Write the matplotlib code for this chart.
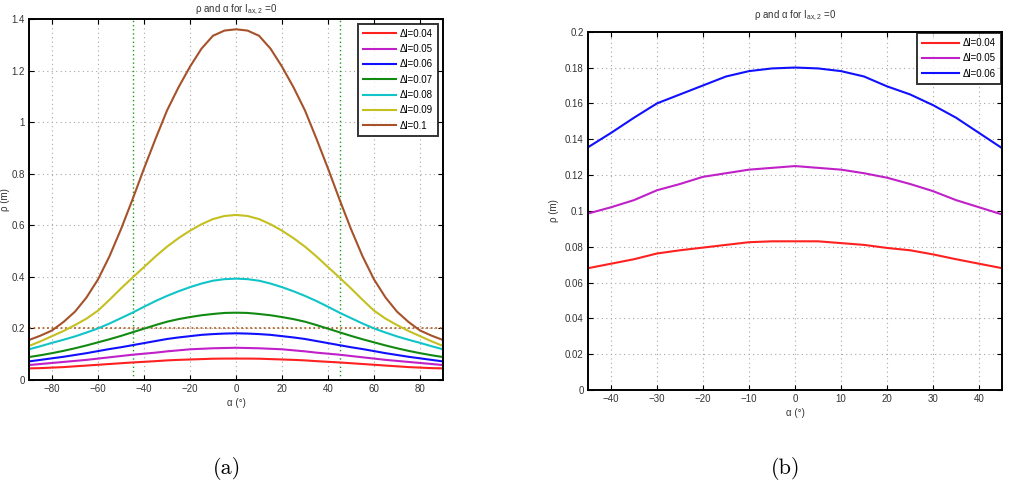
import matplotlib
matplotlib.use("Agg")
import matplotlib.pyplot as plt

# alpha in degrees, panel (a) read every 5 deg
alpha_a = [-90, -85, -80, -75, -70, -65, -60, -55, -50, -45, -40, -35, -30, -25, -20, -15, -10, -5,
           0, 5, 10, 15, 20, 25, 30, 35, 40, 45, 50, 55, 60, 65, 70, 75, 80, 85, 90]

rho_004 = [0.045, 0.046, 0.048, 0.050, 0.053, 0.056, 0.059, 0.062, 0.065, 0.068, 0.0705, 0.073, 0.076, 0.078, 0.0795, 0.081, 0.0825, 0.083,
           0.083, 0.083, 0.0825, 0.081, 0.0795, 0.078, 0.076, 0.073, 0.0705, 0.068, 0.065, 0.062, 0.059, 0.056, 0.053, 0.050, 0.048, 0.046, 0.045]
rho_005 = [0.058, 0.062, 0.066, 0.070, 0.074, 0.078, 0.083, 0.088, 0.093, 0.098, 0.102, 0.106, 0.111, 0.115, 0.119, 0.121, 0.123, 0.124,
           0.125, 0.124, 0.123, 0.121, 0.119, 0.115, 0.111, 0.106, 0.102, 0.098, 0.093, 0.088, 0.083, 0.078, 0.074, 0.070, 0.066, 0.062, 0.058]
rho_006 = [0.072, 0.078, 0.084, 0.090, 0.097, 0.104, 0.112, 0.120, 0.127, 0.135, 0.143, 0.151, 0.159, 0.165, 0.170, 0.175, 0.178, 0.180,
           0.181, 0.180, 0.178, 0.175, 0.170, 0.165, 0.159, 0.151, 0.143, 0.135, 0.127, 0.120, 0.112, 0.104, 0.097, 0.090, 0.084, 0.078, 0.072]
rho_007 = [0.089, 0.096, 0.104, 0.113, 0.123, 0.134, 0.146, 0.158, 0.171, 0.185, 0.199, 0.213, 0.226, 0.236, 0.244, 0.251, 0.256, 0.260,
           0.261, 0.260, 0.256, 0.251, 0.244, 0.236, 0.226, 0.213, 0.199, 0.185, 0.171, 0.158, 0.146, 0.134, 0.123, 0.113, 0.104, 0.096, 0.089]
rho_008 = [0.119, 0.131, 0.144, 0.156, 0.169, 0.184, 0.200, 0.219, 0.240, 0.261, 0.284, 0.306, 0.326, 0.344, 0.360, 0.374, 0.385, 0.391,
           0.393, 0.391, 0.385, 0.374, 0.360, 0.344, 0.326, 0.306, 0.284, 0.261, 0.240, 0.219, 0.200, 0.184, 0.169, 0.156, 0.144, 0.131, 0.119]
rho_009 = [0.132, 0.150, 0.170, 0.190, 0.213, 0.238, 0.269, 0.311, 0.355, 0.397, 0.438, 0.479, 0.517, 0.550, 0.579, 0.604, 0.624, 0.636,
           0.640, 0.636, 0.624, 0.604, 0.579, 0.550, 0.517, 0.479, 0.438, 0.397, 0.355, 0.311, 0.269, 0.238, 0.213, 0.190, 0.170, 0.150, 0.132]
rho_010 = [0.155, 0.172, 0.192, 0.225, 0.265, 0.320, 0.390, 0.480, 0.585, 0.700, 0.820, 0.935, 1.045, 1.135, 1.215, 1.285, 1.335, 1.355,
           1.360, 1.355, 1.335, 1.285, 1.215, 1.135, 1.045, 0.935, 0.820, 0.700, 0.585, 0.480, 0.390, 0.320, 0.265, 0.225, 0.192, 0.172, 0.155]

# panel (b), zoom on -45..45
alpha_b = [-45, -40, -35, -30, -25, -20, -15, -10, -5, 0, 5, 10, 15, 20, 25, 30, 35, 40, 45]
rho_b_004 = [0.068, 0.0705, 0.073, 0.0762, 0.078, 0.0795, 0.081, 0.0825, 0.083, 0.083, 0.083, 0.082, 0.081, 0.0793, 0.078, 0.0757, 0.073, 0.0705, 0.068]
rho_b_005 = [0.0985, 0.102, 0.106, 0.1115, 0.115, 0.119, 0.121, 0.123, 0.124, 0.125, 0.124, 0.123, 0.121, 0.1185, 0.115, 0.111, 0.106, 0.102, 0.098]
rho_b_006 = [0.1355, 0.1435, 0.152, 0.160, 0.165, 0.170, 0.175, 0.178, 0.1795, 0.180, 0.1795, 0.178, 0.175, 0.1695, 0.165, 0.159, 0.152, 0.1435, 0.135]

labels = ['\u0394l=0.04', '\u0394l=0.05', '\u0394l=0.06', '\u0394l=0.07', '\u0394l=0.08', '\u0394l=0.09', '\u0394l=0.1']
colors = ['#ff2020', '#c020c8', '#1010ff', '#128a12', '#10c4c8', '#c4c020', '#a5522a']
rho_a = [rho_004, rho_005, rho_006, rho_007, rho_008, rho_009, rho_010]
rho_b = [rho_b_004, rho_b_005, rho_b_006]

plt.rcParams['font.family'] = ['Liberation Sans', 'DejaVu Sans']
plt.rcParams['font.size'] = 7
plt.rcParams['axes.unicode_minus'] = True

title = '\u03c1 and \u03b1 for I$_{\\mathregular{ax,2}}$ =0'

fig = plt.figure(figsize=(10.14, 4.84), dpi=100)
ax1 = fig.add_axes([0.0286, 0.2149, 0.4083, 0.7459])
ax2 = fig.add_axes([0.5799, 0.1942, 0.4083, 0.7403])


def style(ax):
    ax.grid(True, color='#a8a8a8', linestyle=(0, (1, 3)), linewidth=0.8)
    ax.tick_params(direction='in', top=True, right=True, length=3.5, width=0.8,
                   labelsize=7, labelcolor='#333333', pad=3)
    for s in ax.spines.values():
        s.set_linewidth(1.4)
    ax.set_axisbelow(True)


# (a)
for y, c, l in zip(rho_a, colors, labels):
    ax1.plot(alpha_a, y, color=c, lw=1.5, label=l)
ax1.axvline(-45, color='#1a9a1a', ls=(0, (1, 2)), lw=1.0, zorder=1)
ax1.axvline(45, color='#1a9a1a', ls=(0, (1, 2)), lw=1.0, zorder=1)
ax1.axhline(0.2, color='#b8652a', ls=(0, (1, 1.5)), lw=1.3, zorder=1)
ax1.set_xlim(-90, 90)
ax1.set_ylim(0, 1.4)
ax1.set_xticks([-80, -60, -40, -20, 0, 20, 40, 60, 80])
ax1.set_yticks([0, 0.2, 0.4, 0.6, 0.8, 1, 1.2, 1.4])
ax1.set_yticklabels(['0', '0.2', '0.4', '0.6', '0.8', '1', '1.2', '1.4'])
style(ax1)
ax1.set_xlabel('\u03b1 (\u00b0)', fontsize=7, color='#333333', labelpad=3)
ax1.set_ylabel('\u03c1 (m)', fontsize=7, color='#333333')
ax1.yaxis.set_label_coords(-0.045, 0.5)
ax1.set_title(title, fontsize=7, color='#333333', pad=5)
leg = ax1.legend(loc='upper right', fontsize=7, frameon=True, fancybox=False,
                 borderaxespad=0.5, labelspacing=0.55, handlelength=3.4,
                 handletextpad=0.4, borderpad=0.5)
leg.get_frame().set_edgecolor('black')
leg.get_frame().set_linewidth(1.4)

# (b)
for y, c, l in zip(rho_b, colors[:3], labels[:3]):
    ax2.plot(alpha_b, y, color=c, lw=1.5, label=l)
ax2.set_xlim(-45, 45)
ax2.set_ylim(0, 0.2)
ax2.set_xticks([-40, -30, -20, -10, 0, 10, 20, 30, 40])
ax2.set_yticks([0, 0.02, 0.04, 0.06, 0.08, 0.1, 0.12, 0.14, 0.16, 0.18, 0.2])
ax2.set_yticklabels(['0', '0.02', '0.04', '0.06', '0.08', '0.1', '0.12', '0.14', '0.16', '0.18', '0.2'])
style(ax2)
ax2.set_xlabel('\u03b1 (\u00b0)', fontsize=7, color='#333333', labelpad=3)
ax2.set_ylabel('\u03c1 (m)', fontsize=7, color='#333333', labelpad=4)
ax2.set_title(title, fontsize=7, color='#333333', pad=10)
leg = ax2.legend(loc='upper right', fontsize=7, frameon=True, fancybox=False,
                 borderaxespad=0.15, labelspacing=0.55, handlelength=3.8,
                 handletextpad=0.4, borderpad=0.5)
leg.get_frame().set_edgecolor('black')
leg.get_frame().set_linewidth(1.4)

fig.text(227 / 1014, 1 - 469 / 484, '(a)', fontsize=16, fontname='cmr10', ha='center', va='center')
fig.text(786 / 1014, 1 - 469 / 484, '(b)', fontsize=16, fontname='cmr10', ha='center', va='center')

fig.savefig('out.png', dpi=100)
